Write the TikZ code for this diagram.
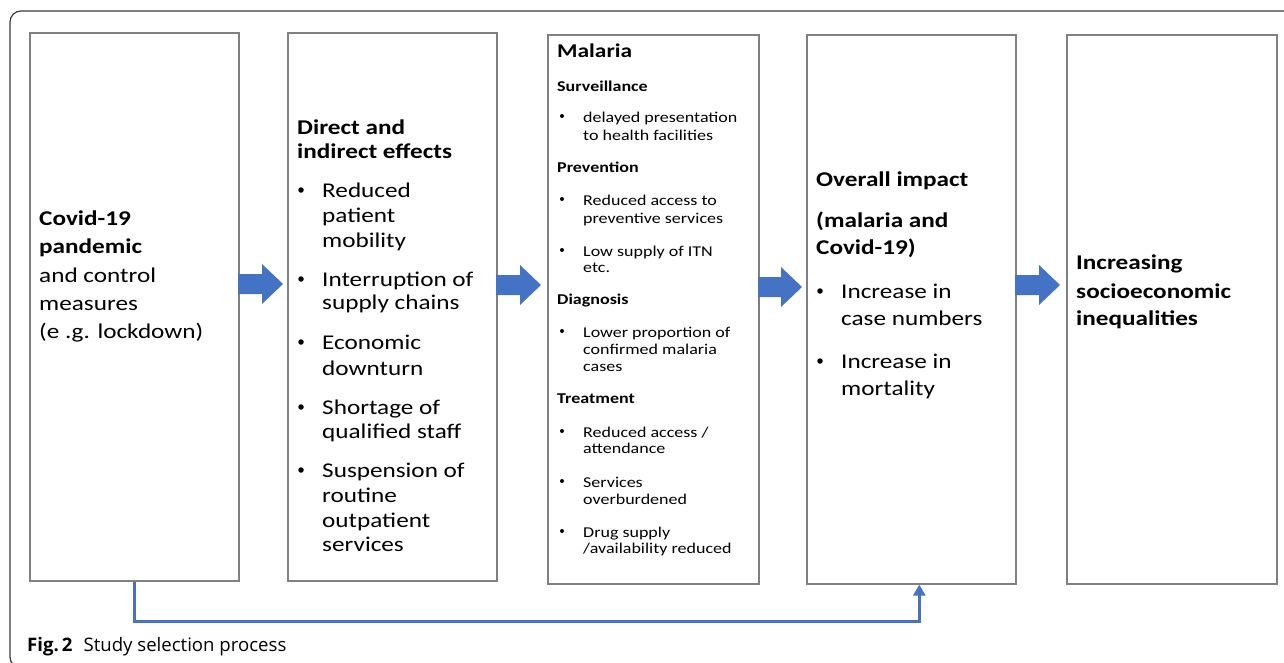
\documentclass[tikz,border=0pt]{standalone}
\usepackage{fontspec}
\setmainfont{Carlito}[FakeStretch=1.2]
\newfontfamily\capfont{Open Sans}
\usetikzlibrary{arrows.meta}
\definecolor{arrowblue}{HTML}{4472C4}
\definecolor{boxgray}{HTML}{808080}
\definecolor{framegray}{HTML}{3A3A3A}
\tikzset{
  box/.style={draw=boxgray, line width=1.6pt, inner sep=0pt, anchor=north west},
  big/.style={anchor=base west, inner sep=0pt, font=\fontsize{21}{25}\selectfont},
  bigb/.style={anchor=base west, inner sep=0pt, font=\fontsize{21}{25}\selectfont\bfseries},
  sm/.style={anchor=base west, inner sep=0pt, font=\fontsize{15}{17}\selectfont},
  smb/.style={anchor=base west, inner sep=0pt, font=\fontsize{15}{17}\selectfont\bfseries},
  bigdot/.style={circle, fill=black, inner sep=0pt, minimum size=5.5pt},
  smdot/.style={circle, fill=black, inner sep=0pt, minimum size=4pt},
  blockarrow/.style={fill=arrowblue, draw=none},
  link/.style={draw=arrowblue, line width=3pt, -{Triangle[width=12pt,length=11pt]}},
}
\begin{document}
\begin{tikzpicture}[x=1pt,y=-1pt]
\useasboundingbox (0,0) rectangle (1284,662);
\begin{scope}
  \clip (0,0) rectangle (1284,662);
  \draw[framegray, line width=1.2pt, rounded corners=11pt] (10,11) rectangle (1300,668);
\end{scope}

% boxes
\node[box, minimum width=209pt, minimum height=548pt] (b1) at (29,32) {};
\node[box, minimum width=209pt, minimum height=548pt] (b2) at (287,32) {};
\node[box, minimum width=211pt, minimum height=549pt] (b3) at (547,34) {};
\node[box, minimum width=209pt, minimum height=549pt] (b4) at (806,34) {};
\node[box, minimum width=210pt, minimum height=549pt] (b5) at (1066,34) {};

% block arrows
\fill[blockarrow] (238,274) -- ++(24,0) -- ++(0,-10) -- ++(21,20) -- ++(-21,20) -- ++(0,-10) -- ++(-24,0) -- cycle;
\fill[blockarrow] (496,275) -- ++(24,0) -- ++(0,-10) -- ++(21,20) -- ++(-21,20) -- ++(0,-10) -- ++(-24,0) -- cycle;
\fill[blockarrow] (758,277) -- ++(23,0) -- ++(0,-10) -- ++(21,20) -- ++(-21,20) -- ++(0,-10) -- ++(-23,0) -- cycle;
\fill[blockarrow] (1015,275) -- ++(24,0) -- ++(0,-10) -- ++(21,20) -- ++(-21,20) -- ++(0,-10) -- ++(-24,0) -- cycle;

% bottom connector
\draw[link] (b1.south) -- ++(0,40) -| ([xshift=8pt]b4.south);

% box 1
\node[bigb] (a1) at (39,225) {Covid-19};
\node[bigb] (a2) at (39,253) {pandemic};
\node[big] (a3) at (39,282) {and control};
\node[big] (a4) at (39,310) {measures};
\node[big] (a5) at (39,338) {(e .g. lockdown)};

% box 2
\node[bigb] (c1) at (297,134) {Direct and};
\node[bigb] (c2) at (297,158) {indirect effects};
\node[bigdot] (cb1) at (301,190) {};
\node[big] (c3) at (322,197) {Reduced};
\node[big] (c4) at (322,222) {patient};
\node[big] (c5) at (322,247) {mobility};
\node[bigdot] (cb2) at (301,279) {};
\node[big] (c6) at (322,286) {Interruption of};
\node[big] (c7) at (322,309) {supply chains};
\node[bigdot] (cb3) at (301,342) {};
\node[big] (c8) at (322,349) {Economic};
\node[big] (c9) at (322,375) {downturn};
\node[bigdot] (cb4) at (301,407) {};
\node[big] (c10) at (322,414) {Shortage of};
\node[big] (c11) at (322,438) {qualified staff};
\node[bigdot] (cb5) at (301,470) {};
\node[big] (c12) at (322,477) {Suspension of};
\node[big] (c13) at (322,502) {routine};
\node[big] (c14) at (322,527) {outpatient};
\node[big] (c15) at (322,551) {services};

% box 3
\node[anchor=base west, inner sep=0pt, font=\fontsize{19.5}{22}\selectfont\bfseries] (m0) at (557,57) {Malaria};
\node[smb] (m1) at (557,91) {Surveillance};
\node[smdot] (mb1) at (562,116) {};
\node[sm] (m2) at (583,122) {delayed presentation};
\node[sm] (m3) at (583,140) {to health facilities};
\node[smb] (m4) at (557,172) {Prevention};
\node[smdot] (mb2) at (562,199) {};
\node[sm] (m5) at (583,205) {Reduced access to};
\node[sm] (m6) at (583,223) {preventive services};
\node[smdot] (mb3) at (562,250) {};
\node[sm] (m7) at (583,256) {Low supply of ITN};
\node[sm] (m8) at (583,272) {etc.};
\node[smb] (m9) at (557,304) {Diagnosis};
\node[smdot] (mb4) at (562,331) {};
\node[sm] (m10) at (583,337) {Lower proportion of};
\node[sm] (m11) at (583,354) {confirmed malaria};
\node[sm] (m12) at (583,371) {cases};
\node[smb] (m13) at (557,403) {Treatment};
\node[smdot] (mb5) at (562,431) {};
\node[sm] (m14) at (583,437) {Reduced access /};
\node[sm] (m15) at (583,453) {attendance};
\node[smdot] (mb6) at (562,481) {};
\node[sm] (m16) at (583,487) {Services};
\node[sm] (m17) at (583,504) {overburdened};
\node[smdot] (mb7) at (562,531) {};
\node[sm] (m18) at (583,537) {Drug supply};
\node[sm] (m19) at (583,553) {/availability reduced};

% box 4
\node[bigb] (o1) at (816,186) {Overall impact};
\node[bigb] (o2) at (816,227) {(malaria and};
\node[bigb] (o3) at (816,254) {Covid-19)};
\node[bigdot] (ob1) at (820,291) {};
\node[big] (o4) at (841,298) {Increase in};
\node[big] (o5) at (841,325) {case numbers};
\node[bigdot] (ob2) at (820,361) {};
\node[big] (o6) at (841,368) {Increase in};
\node[big] (o7) at (841,395) {mortality};

% box 5
\node[bigb] (i1) at (1076,269) {Increasing};
\node[bigb] (i2) at (1076,298) {socioeconomic};
\node[bigb] (i3) at (1076,325) {inequalities};

% caption
\node[anchor=base west, inner sep=0pt, font=\capfont\fontsize{18.6}{20}\selectfont] (cap) at (27,651) {\textbf{Fig.\,2}\hspace{11pt}Study selection process};
\end{tikzpicture}
\end{document}
